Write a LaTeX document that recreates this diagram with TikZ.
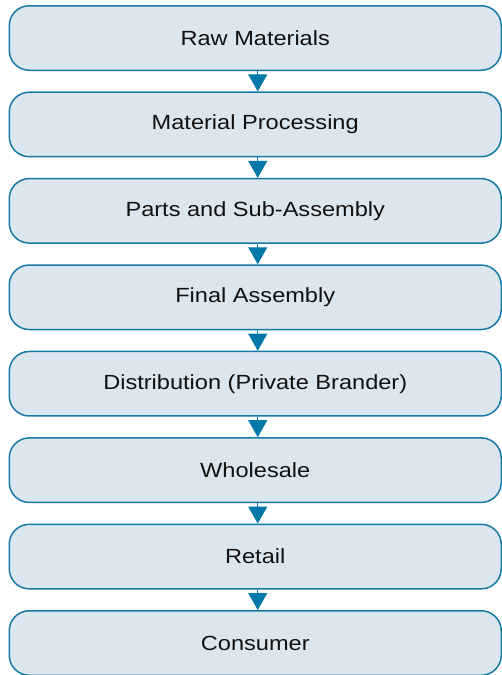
\documentclass[tikz,border=0pt]{standalone}
\usepackage{fontspec}
\setmainfont[FakeStretch=1.15]{Liberation Sans}
\usetikzlibrary{arrows.meta}
\definecolor{boxfill}{HTML}{DCE6EF}
\definecolor{boxline}{HTML}{1779A6}
\definecolor{arrowc}{HTML}{0078A8}
\definecolor{txt}{HTML}{111111}
\begin{document}
\begin{tikzpicture}[x=1pt,y=-1pt,
  stagebox/.style={draw=boxline, fill=boxfill, line width=1.5pt, rounded corners=20pt,
    minimum width=492pt, minimum height=64.5pt, inner sep=0pt, anchor=north west,
    text=txt, font=\fontsize{20.5}{24}\selectfont},
  flowarrow/.style={draw=arrowc, line width=1pt, -{Triangle[width=19pt,length=17pt]}, arrowc}]
\useasboundingbox (0,0) rectangle (502,675);
\foreach \i/\t in {0/Raw Materials,1/Material Processing,2/Parts and Sub-Assembly,3/Final Assembly,4/Distribution (Private Brander),5/Wholesale,6/Retail,7/Consumer}{
  \node[stagebox] (b\i) at (8.5,{5+86.43*\i}) {\t};
}
\foreach \i [evaluate=\i as \j using int(\i+1)] in {0,...,6}{
  \draw[flowarrow] ([xshift=2.5pt]b\i.south) -- ([xshift=2.5pt]b\j.north);
}
\end{tikzpicture}
\end{document}
